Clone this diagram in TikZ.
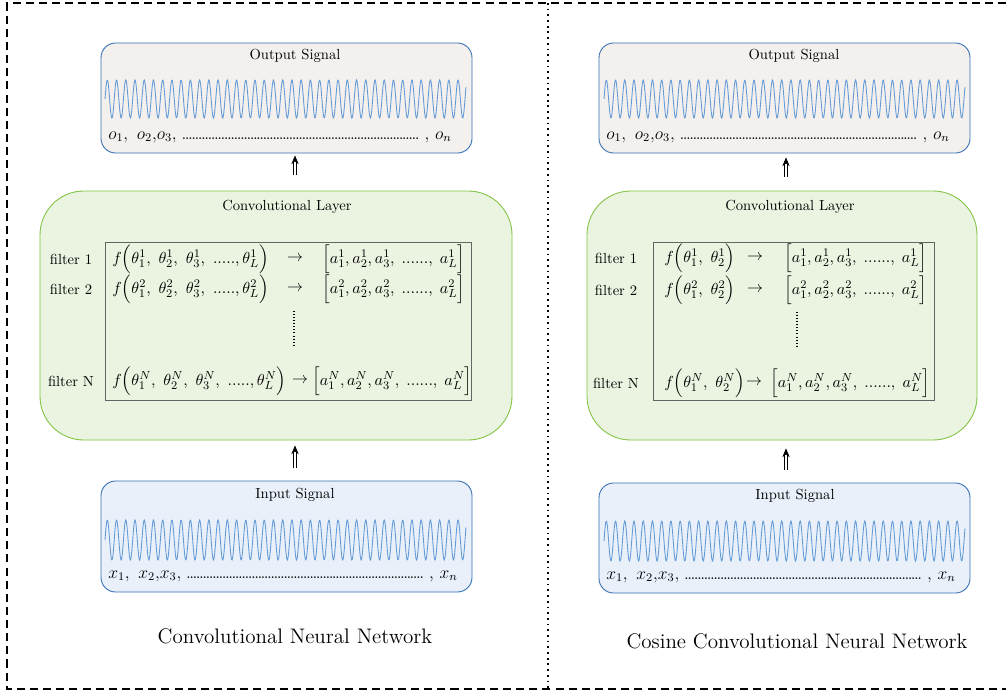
\documentclass[tikz,border=0pt]{standalone}
\usepackage{amsmath}
\usetikzlibrary{arrows.meta,fit}
\definecolor{sigblue}{RGB}{52,110,180}
\definecolor{wavecol}{RGB}{100,155,215}
\definecolor{outfill}{RGB}{244,240,237}
\definecolor{infill}{RGB}{233,240,249}
\definecolor{convfill}{RGB}{235,243,225}
\definecolor{convline}{RGB}{130,195,65}
\definecolor{innerline}{RGB}{100,100,100}
\newcommand{\dotrow}{\makebox[162pt]{\xleaders\hbox to 2.2pt{\hss.\hss}\hfill}}
\newcommand{\rowfont}{\fontsize{11}{13.5}\selectfont}
\begin{document}
\begin{tikzpicture}[x=0.685pt,y=-0.685pt,
  outbox/.style={draw=sigblue, fill=outfill, line width=0.6pt, rounded corners=10pt, inner sep=0pt},
  inbox/.style={draw=sigblue, fill=infill, line width=0.6pt, rounded corners=10pt, inner sep=0pt},
  convbox/.style={draw=convline, fill=convfill, line width=0.6pt, rounded corners=30pt, inner sep=0pt},
  innerbox/.style={draw=innerline, line width=0.5pt, inner sep=0pt},
  ttl/.style={inner sep=0pt},
  flabel/.style={inner sep=0pt},
  frow/.style={anchor=west, inner sep=0pt, font=\rowfont},
  arow/.style={anchor=west, inner sep=0pt, font=\rowfont},
  rarr/.style={inner sep=0pt, font=\rowfont},
  sigrow/.style={anchor=west, inner sep=0pt, font=\large},
  caption/.style={inner sep=0pt, font=\Large},
  frame/.style={line width=1.3pt, dash pattern=on 5.5pt off 3.5pt},
  divider/.style={line width=1.3pt, dash pattern=on 1.2pt off 2.7pt},
  vdots/.style={line width=0.8pt, dash pattern=on 0.6pt off 1.5pt},
  upar/.style={double, double distance=1.3pt, line width=0.45pt, -{Stealth[length=6pt,width=5pt]}},
  sine/.style={draw=wavecol, line width=0.6pt}]
\useasboundingbox (0,0) rectangle (1006,692);

% frame
\draw[frame] (1006,3) -- (7,3) -- (7,689) -- (1006,689);
\draw[divider] (548,3) -- (548,689);

% ================= LEFT =================
\node[outbox, fit={(101,43) (472,153)}] (out1) {};
\node[ttl] (out1t) at (295,56) {Output Signal};
\draw[sine] plot[domain=0:361, samples=700] ({\x+105},{99-19*sin(39*\x)});
\node[sigrow] (out1r) at (108,137) {$o_1,\ o_2{,}o_3,$\ \dotrow\ ,\ $o_n$};

\node[convbox, fit={(40,191) (512,440)}] (conv1) {};
\node[ttl] (conv1t) at (287,207) {Convolutional Layer};
\node[innerbox, fit={(105,242) (471,400)}] (in1) {};
\node[flabel] (f11) at (71,259) {filter 1};
\node[flabel] (f12) at (71,289) {filter 2};
\node[flabel] (f1n) at (71,381) {filter N};
\node[frow] (r11) at (112,259) {$f\Bigl(\theta_1^1,\ \theta_2^1,\ \theta_3^1,\ .....,\theta_L^1\Bigr)$};
\node[rarr] (ar11) at (295,259) {$\rightarrow$};
\node[arow] (a11) at (322,259) {$\Bigl[a_1^1,a_2^1,a_3^1,\;......,\;a_L^1\Bigr]$};
\node[frow] (r12) at (112,289) {$f\Bigl(\theta_1^2,\ \theta_2^2,\ \theta_3^2,\ .....,\theta_L^2\Bigr)$};
\node[rarr] (ar12) at (295,289) {$\rightarrow$};
\node[arow] (a12) at (322,289) {$\Bigl[a_1^2,a_2^2,a_3^2,\;......,\;a_L^2\Bigr]$};
\node[frow] (r1n) at (112,381) {$f\Bigl(\theta_1^N,\ \theta_2^N,\ \theta_3^N,\ .....,\theta_L^N\Bigr)$};
\node[rarr] (ar1n) at (300,381) {$\rightarrow$};
\node[arow] (a1n) at (312,381) {$\Bigl[a_1^N,a_2^N,a_3^N,\;......,\;a_L^N\Bigr]$};
\coordinate (vd1a) at (294,311);
\coordinate (vd1b) at (294,346);
\draw[vdots] (vd1a) -- (vd1b);

\node[inbox, fit={(101,481) (472,592)}] (inp1) {};
\node[ttl] (inp1t) at (295,495) {Input Signal};
\draw[sine] plot[domain=0:361, samples=700] ({\x+105},{540-20*sin(39*\x)});
\node[sigrow] (inp1r) at (108,576) {$x_1,\ x_2{,}x_3,$\ \dotrow\ ,\ $x_n$};

\coordinate (up1) at (295,0);
\draw[upar] ([yshift=16*0.685pt]conv1.north -| up1) -- ([yshift=-2*0.685pt]out1.south -| up1);
\draw[upar] ([yshift=13*0.685pt]inp1.north -| up1) -- ([yshift=-5*0.685pt]conv1.south -| up1);

\node[caption] (cap1) at (295,636) {Convolutional Neural Network};

% ================= RIGHT =================
\node[outbox, fit={(599,43) (970,153)}] (out2) {};
\node[ttl] (out2t) at (794,56) {Output Signal};
\draw[sine] plot[domain=0:361, samples=700] ({\x+604},{99-19*sin(39*\x)});
\node[sigrow] (out2r) at (606,137) {$o_1,\ o_2{,}o_3,$\ \dotrow\ ,\ $o_n$};

\node[convbox, fit={(587,191) (977,440)}] (conv2) {};
\node[ttl] (conv2t) at (790,207) {Convolutional Layer};
\node[innerbox, fit={(653,242) (934,400)}] (in2) {};
\node[flabel] (f21) at (616,258) {filter 1};
\node[flabel] (f22) at (616,290) {filter 2};
\node[flabel] (f2n) at (616,383) {filter N};
\node[frow] (r21) at (664,258) {$f\Bigl(\theta_1^1,\ \theta_2^1\Bigr)$};
\node[rarr] (ar21) at (755,258) {$\rightarrow$};
\node[arow] (a21) at (784,258) {$\Bigl[a_1^1,a_2^1,a_3^1,\;......,\;a_L^1\Bigr]$};
\node[frow] (r22) at (664,290) {$f\Bigl(\theta_1^2,\ \theta_2^2\Bigr)$};
\node[rarr] (ar22) at (755,290) {$\rightarrow$};
\node[arow] (a22) at (784,290) {$\Bigl[a_1^2,a_2^2,a_3^2,\;......,\;a_L^2\Bigr]$};
\node[frow] (r2n) at (664,383) {$f\Bigl(\theta_1^N,\ \theta_2^N\Bigr)$};
\node[rarr] (ar2n) at (754,383) {$\rightarrow$};
\node[arow] (a2n) at (770,383) {$\Bigl[a_1^N,a_2^N,a_3^N,\;......,\;a_L^N\Bigr]$};
\coordinate (vd2a) at (797,312);
\coordinate (vd2b) at (797,346);
\draw[vdots] (vd2a) -- (vd2b);

\node[inbox, fit={(599,483) (970,593)}] (inp2) {};
\node[ttl] (inp2t) at (795,496) {Input Signal};
\draw[sine] plot[domain=0:361, samples=700] ({\x+604},{541-20*sin(39*\x)});
\node[sigrow] (inp2r) at (606,577) {$x_1,\ x_2{,}x_3,$\ \dotrow\ ,\ $x_n$};

\coordinate (up2) at (786,0);
\draw[upar] ([yshift=14*0.685pt]conv2.north -| up2) -- ([yshift=-4*0.685pt]out2.south -| up2);
\draw[upar] ([yshift=13*0.685pt]inp2.north -| up2) -- ([yshift=-8*0.685pt]conv2.south -| up2);

\node[caption] (cap2) at (797,641) {Cosine Convolutional Neural Network};
\end{tikzpicture}
\end{document}
